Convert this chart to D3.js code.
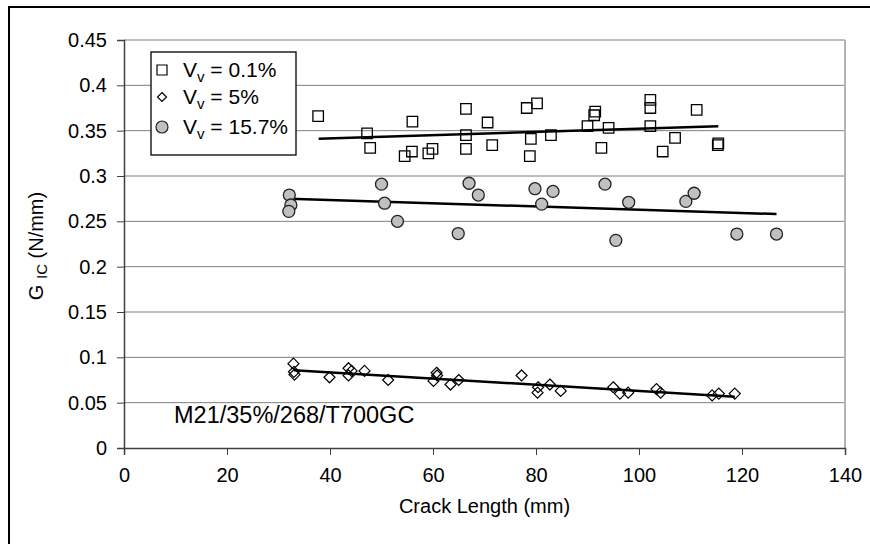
<!DOCTYPE html>
<html><head><meta charset="utf-8">
<script src="https://cdn.jsdelivr.net/npm/d3@7"></script>
<style>body{margin:0;background:#fff}svg{display:block}text{font-family:"Liberation Sans",Arial,sans-serif;fill:#000}</style>
</head><body><svg id="c" width="870" height="544"></svg>
<script>
// Series: V_v = 0.1% (squares)
const sqX = [37.7,47.2,47.8,56.0,54.5,55.9,59.1,59.9,66.4,66.4,66.4,70.6,71.5,78.2,80.2,79.0,78.8,82.9,90.0,91.3,91.5,94.1,92.7,102.2,102.2,102.2,107.0,104.6,111.2,115.4,115.3];
const sqY = [0.366,0.347,0.331,0.360,0.322,0.327,0.325,0.330,0.374,0.345,0.330,0.359,0.334,0.375,0.380,0.341,0.322,0.345,0.355,0.367,0.371,0.353,0.331,0.384,0.375,0.355,0.342,0.327,0.373,0.336,0.334];
// Series: V_v = 5% (diamonds)
const diX = [32.9,33.0,33.1,39.9,43.6,44.2,43.6,46.7,51.3,60.7,60.8,60.1,63.4,65.0,77.2,80.4,80.3,82.7,84.8,95.0,96.3,97.9,103.4,104.2,114.2,115.5,118.6];
const diY = [0.093,0.084,0.081,0.078,0.088,0.085,0.080,0.085,0.075,0.083,0.080,0.074,0.070,0.075,0.080,0.067,0.061,0.070,0.063,0.067,0.060,0.061,0.065,0.061,0.058,0.060,0.060];
// Series: V_v = 15.7% (circles)
const ciX = [32.1,32.4,32.0,50.0,50.6,53.1,67.0,68.8,64.9,79.8,83.3,81.1,93.4,98.0,95.5,109.1,110.7,119.0,126.7];
const ciY = [0.279,0.268,0.261,0.291,0.270,0.250,0.292,0.279,0.2365,0.286,0.283,0.269,0.291,0.271,0.229,0.272,0.281,0.236,0.236];
// Linear trend lines (end points)
const trendSqX = [37.8,115.4], trendSqY = [0.341,0.355];
const trendDiX = [33.0,118.6], trendDiY = [0.0857,0.0566];
const trendCiX = [32.1,126.7], trendCiY = [0.275,0.258];
// Axis ticks
const xTicks = [0,20,40,60,80,100,120,140];
const yTicks = [0,0.05,0.1,0.15,0.2,0.25,0.3,0.35,0.4,0.45];
const legendLabels = ["0.1%","5%","15.7%"];

const svg = d3.select("#c");
const L=124,R=845,T=40,B=448;
const x = d3.scaleLinear().domain([0,140]).range([L,R]);
const y = d3.scaleLinear().domain([0,0.45]).range([B,T]);

// outer frame
svg.append("rect").attr("x",9).attr("y",7).attr("width",900).attr("height",600).attr("fill","none").attr("stroke","#000").attr("stroke-width",2);

// gridlines
svg.append("g").selectAll("line").data(yTicks.filter(d=>d>0)).join("line")
  .attr("x1",L).attr("x2",R).attr("y1",d=>y(d)).attr("y2",d=>y(d))
  .attr("stroke","#7f7f7f").attr("stroke-width",1);
// right border
svg.append("line").attr("x1",R).attr("x2",R).attr("y1",T).attr("y2",B).attr("stroke","#b4b4b4").attr("stroke-width",2);

// axes
const fmt = d=> d===0?"0":String(+d.toFixed(2));
const yAxis = svg.append("g").attr("transform",`translate(${L},0)`)
  .call(d3.axisLeft(y).tickValues(yTicks).tickSize(7).tickPadding(10).tickFormat(fmt));
const xAxis = svg.append("g").attr("transform",`translate(0,${B})`)
  .call(d3.axisBottom(x).tickValues(xTicks).tickSize(7).tickPadding(13).tickFormat(d3.format("d")));
[yAxis,xAxis].forEach(a=>{
  a.select(".domain").attr("stroke","#404040").attr("stroke-width",1.5);
  a.selectAll(".tick line").attr("stroke","#404040");
  a.selectAll("text").attr("font-size",20).attr("font-family","Liberation Sans, Arial, sans-serif").attr("fill","#000");
});

// axis titles
svg.append("text").attr("x",(L+R)/2).attr("y",513).attr("text-anchor","middle").attr("font-size",20).text("Crack Length (mm)");
const yt = svg.append("text").attr("transform","translate(43,246) rotate(-90)").attr("text-anchor","middle").attr("font-size",20);
yt.append("tspan").text("G ");
yt.append("tspan").attr("font-size",15).attr("dy",4).text("IC");
yt.append("tspan").attr("dy",-4).text(" (N/mm)");

// trend lines
const line = d3.line().x(d=>x(d[0])).y(d=>y(d[1]));
[[trendSqX,trendSqY],[trendCiX,trendCiY],[trendDiX,trendDiY]].forEach(([tx,ty])=>{
  svg.append("path").datum(d3.zip(tx,ty)).attr("d",line).attr("stroke","#000").attr("stroke-width",2.5).attr("fill","none");
});

// markers
const sqSym = d3.symbol().type(d3.symbolSquare).size(110);
const diPath = "M0,-5.5L5.5,0L0,5.5L-5.5,0Z";
svg.append("g").selectAll("path").data(d3.zip(sqX,sqY)).join("path")
  .attr("d",sqSym).attr("transform",d=>`translate(${x(d[0])},${y(d[1])})`)
  .attr("fill","#fff").attr("fill-opacity",0).attr("stroke","#000").attr("stroke-width",1.3);
svg.append("g").selectAll("path").data(d3.zip(diX,diY)).join("path")
  .attr("d",diPath).attr("transform",d=>`translate(${x(d[0])},${y(d[1])})`)
  .attr("fill","#fff").attr("fill-opacity",0).attr("stroke","#000").attr("stroke-width",1.2);
svg.append("g").selectAll("circle").data(d3.zip(ciX,ciY)).join("circle")
  .attr("cx",d=>x(d[0])).attr("cy",d=>y(d[1])).attr("r",6)
  .attr("fill","#c0c0c0").attr("stroke","#222").attr("stroke-width",1.3);

// annotation
svg.append("text").attr("x",174).attr("y",423).attr("font-size",23.5).text("M21/35%/268/T700GC");

// legend
const lg = svg.append("g");
lg.append("rect").attr("x",151).attr("y",52).attr("width",145).attr("height",103).attr("fill","#fff").attr("stroke","#000").attr("stroke-width",1.3);
const ly = [70,97,127];
lg.append("path").attr("d",d3.symbol().type(d3.symbolSquare).size(100)()).attr("transform",`translate(162,${ly[0]})`).attr("fill","#fff").attr("stroke","#000").attr("stroke-width",1.2);
lg.append("path").attr("d","M0,-4.5L4.5,0L0,4.5L-4.5,0Z").attr("transform",`translate(162,${ly[1]})`).attr("fill","#fff").attr("stroke","#000").attr("stroke-width",1.2);
lg.append("circle").attr("cx",162).attr("cy",ly[2]).attr("r",6).attr("fill","#c0c0c0").attr("stroke","#222").attr("stroke-width",1.2);
legendLabels.forEach((lab,i)=>{
  const t = lg.append("text").attr("x",183).attr("y",ly[i]+7).attr("font-size",21);
  t.append("tspan").text("V");
  t.append("tspan").attr("font-size",15).attr("dy",5).text("v");
  t.append("tspan").attr("dy",-5).text(" = "+lab);
});
</script></body></html>
